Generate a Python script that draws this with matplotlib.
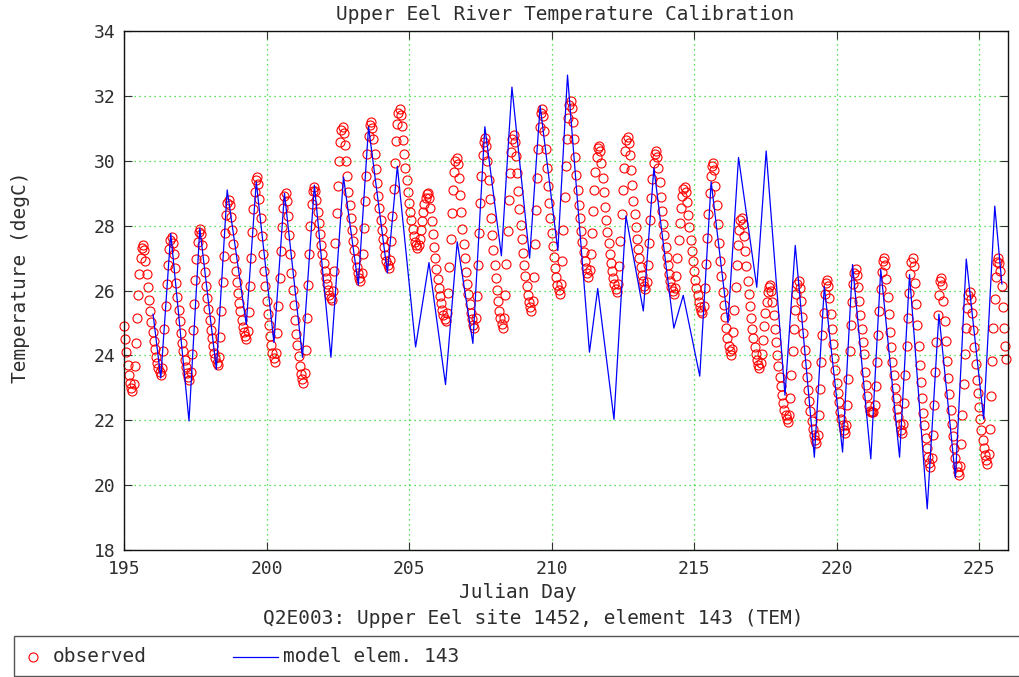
import numpy as np
import matplotlib
matplotlib.use('Agg')
from matplotlib import pyplot as plt
from matplotlib.patches import Rectangle
from matplotlib.lines import Line2D

# hourly observed stream temperature (degC), starting at Julian day 195.0
obs_temp = [
    24.9, 24.5, 24.1, 23.7, 23.4, 23.15, 23.0, 22.9, 23.13, 23.67, 24.39, 25.15, 25.87, 26.5, 27.0, 27.31, 27.4, 27.24, 26.92, 26.52, 26.12, 25.72, 25.36, 25.04,  # 195
    24.72, 24.44, 24.2, 23.96, 23.76, 23.6, 23.48, 23.4, 23.61, 24.12, 24.8, 25.53, 26.2, 26.8, 27.27, 27.57, 27.65, 27.47, 27.12, 26.68, 26.24, 25.8, 25.41, 25.05,  # 196
    24.7, 24.39, 24.13, 23.87, 23.65, 23.47, 23.34, 23.25, 23.48, 24.04, 24.78, 25.58, 26.32, 26.97, 27.48, 27.81, 27.9, 27.73, 27.4, 26.98, 26.56, 26.14, 25.76, 25.42,  # 197
    25.09, 24.79, 24.54, 24.29, 24.08, 23.91, 23.78, 23.7, 23.96, 24.57, 25.38, 26.25, 27.07, 27.78, 28.34, 28.7, 28.8, 28.63, 28.28, 27.85, 27.42, 26.99, 26.61, 26.26,  # 198
    25.92, 25.62, 25.36, 25.1, 24.89, 24.71, 24.59, 24.5, 24.75, 25.35, 26.15, 27.0, 27.8, 28.5, 29.05, 29.4, 29.5, 29.27, 28.82, 28.25, 27.68, 27.11, 26.59, 26.14,  # 199
    25.68, 25.28, 24.94, 24.6, 24.31, 24.08, 23.91, 23.8, 24.06, 24.68, 25.52, 26.4, 27.23, 27.96, 28.53, 28.9, 29.0, 28.77, 28.3, 27.71, 27.13, 26.54, 26.02, 25.55,  # 200
    25.08, 24.67, 24.32, 23.97, 23.68, 23.44, 23.27, 23.15, 23.45, 24.18, 25.15, 26.18, 27.14, 27.99, 28.66, 29.08, 29.2, 29.06, 28.78, 28.43, 28.08, 27.73, 27.41, 27.13,  # 201
    26.85, 26.61, 26.4, 26.19, 26.01, 25.87, 25.77, 25.7, 25.97, 26.61, 27.47, 28.38, 29.23, 29.98, 30.57, 30.94, 31.05, 30.86, 30.48, 30.0, 29.53, 29.05, 28.63, 28.25,  # 202
    27.87, 27.53, 27.25, 26.96, 26.73, 26.54, 26.39, 26.3, 26.55, 27.13, 27.92, 28.75, 29.53, 30.22, 30.76, 31.1, 31.2, 31.02, 30.66, 30.21, 29.76, 29.31, 28.9, 28.54,  # 203
    28.18, 27.87, 27.6, 27.33, 27.1, 26.92, 26.79, 26.7, 26.94, 27.53, 28.31, 29.14, 29.92, 30.6, 31.14, 31.48, 31.58, 31.41, 31.07, 30.64, 30.21, 29.78, 29.4, 29.05,  # 204
    28.71, 28.41, 28.16, 27.9, 27.69, 27.51, 27.39, 27.3, 27.39, 27.59, 27.86, 28.15, 28.42, 28.66, 28.85, 28.97, 29.0, 28.84, 28.53, 28.13, 27.74, 27.34, 26.99, 26.67,  # 205
    26.35, 26.08, 25.84, 25.6, 25.41, 25.25, 25.13, 25.05, 25.3, 25.91, 26.72, 27.58, 28.38, 29.09, 29.65, 30.0, 30.1, 29.89, 29.47, 28.94, 28.42, 27.89, 27.42, 27.0,  # 206
    26.58, 26.21, 25.9, 25.58, 25.32, 25.11, 24.95, 24.85, 25.14, 25.84, 26.78, 27.78, 28.71, 29.53, 30.17, 30.58, 30.7, 30.47, 30.0, 29.41, 28.83, 28.24, 27.72, 27.25,  # 207
    26.78, 26.37, 26.02, 25.67, 25.38, 25.14, 24.97, 24.85, 25.15, 25.86, 26.81, 27.83, 28.78, 29.61, 30.26, 30.68, 30.8, 30.58, 30.15, 29.61, 29.06, 28.52, 28.03, 27.6,  # 208
    27.16, 26.78, 26.46, 26.13, 25.86, 25.64, 25.48, 25.37, 25.68, 26.43, 27.43, 28.49, 29.48, 30.35, 31.04, 31.48, 31.6, 31.37, 30.92, 30.35, 29.78, 29.21, 28.69, 28.24,  # 209
    27.78, 27.38, 27.04, 26.7, 26.41, 26.18, 26.01, 25.9, 26.2, 26.91, 27.86, 28.88, 29.83, 30.66, 31.31, 31.73, 31.85, 31.63, 31.2, 30.66, 30.12, 29.57, 29.09, 28.65,  # 210
    28.22, 27.84, 27.51, 27.19, 26.92, 26.7, 26.54, 26.43, 26.63, 27.12, 27.76, 28.45, 29.1, 29.66, 30.11, 30.39, 30.47, 30.29, 29.93, 29.48, 29.03, 28.58, 28.17, 27.81,  # 211
    27.45, 27.13, 26.86, 26.59, 26.37, 26.19, 26.05, 25.96, 26.2, 26.77, 27.53, 28.35, 29.11, 29.78, 30.3, 30.63, 30.73, 30.54, 30.17, 29.7, 29.24, 28.77, 28.35, 27.97,  # 212
    27.6, 27.27, 26.99, 26.71, 26.48, 26.29, 26.15, 26.06, 26.27, 26.78, 27.46, 28.18, 28.86, 29.45, 29.92, 30.22, 30.3, 30.12, 29.77, 29.33, 28.89, 28.45, 28.06, 27.7,  # 213
    27.35, 27.04, 26.78, 26.52, 26.3, 26.12, 25.99, 25.9, 26.07, 26.46, 26.99, 27.55, 28.08, 28.54, 28.9, 29.13, 29.2, 29.04, 28.73, 28.34, 27.95, 27.56, 27.21, 26.9,  # 214
    26.59, 26.31, 26.08, 25.85, 25.65, 25.49, 25.38, 25.3, 25.53, 26.09, 26.83, 27.62, 28.36, 29.01, 29.52, 29.85, 29.94, 29.7, 29.23, 28.63, 28.04, 27.45, 26.91, 26.44,  # 215
    25.96, 25.54, 25.19, 24.83, 24.53, 24.3, 24.12, 24.0, 24.21, 24.72, 25.4, 26.12, 26.8, 27.39, 27.86, 28.16, 28.24, 28.06, 27.69, 27.22, 26.76, 26.3, 25.88, 25.51,  # 216
    25.14, 24.82, 24.54, 24.27, 24.04, 23.85, 23.71, 23.62, 23.75, 24.05, 24.46, 24.9, 25.3, 25.66, 25.94, 26.12, 26.17, 26.0, 25.66, 25.24, 24.82, 24.4, 24.02, 23.68,  # 217
    23.34, 23.05, 22.79, 22.54, 22.33, 22.16, 22.03, 21.95, 22.17, 22.69, 23.38, 24.12, 24.81, 25.41, 25.89, 26.19, 26.28, 26.08, 25.68, 25.18, 24.68, 24.18, 23.74, 23.34,  # 218
    22.94, 22.59, 22.29, 21.99, 21.74, 21.54, 21.39, 21.29, 21.54, 22.15, 22.95, 23.81, 24.62, 25.32, 25.88, 26.23, 26.33, 26.14, 25.76, 25.29, 24.82, 24.34, 23.92, 23.54,  # 219
    23.16, 22.83, 22.55, 22.26, 22.03, 21.84, 21.69, 21.6, 21.85, 22.46, 23.27, 24.13, 24.93, 25.64, 26.2, 26.55, 26.65, 26.47, 26.12, 25.68, 25.24, 24.8, 24.4, 24.05,  # 220
    23.5, 23.1, 22.75, 22.45, 22.3, 22.25, 22.25, 22.24, 22.48, 23.05, 23.81, 24.62, 25.38, 26.05, 26.57, 26.9, 27.0, 26.78, 26.35, 25.81, 25.27, 24.73, 24.25, 23.81,  # 221
    23.38, 23.0, 22.68, 22.36, 22.09, 21.87, 21.71, 21.6, 21.87, 22.52, 23.38, 24.3, 25.16, 25.92, 26.51, 26.89, 27.0, 26.74, 26.23, 25.58, 24.94, 24.29, 23.71, 23.19,  # 222
    22.68, 22.23, 21.84, 21.45, 21.13, 20.87, 20.68, 20.55, 20.84, 21.54, 22.48, 23.48, 24.41, 25.23, 25.87, 26.28, 26.4, 26.16, 25.67, 25.06, 24.45, 23.84, 23.29, 22.8,  # 223
    22.31, 21.89, 21.52, 21.15, 20.85, 20.6, 20.42, 20.3, 20.58, 21.26, 22.17, 23.13, 24.04, 24.83, 25.45, 25.85, 25.96, 25.75, 25.32, 24.79, 24.26, 23.73, 23.25, 22.83,  # 224
    22.4, 22.03, 21.71, 21.39, 21.13, 20.92, 20.76, 20.65, 20.97, 21.73, 22.75, 23.83, 24.84, 25.73, 26.43, 26.87, 27.0, 26.85, 26.6, 26.15, 25.5, 24.85, 24.3, 23.9,  # 225
]
obs_day = 195 + np.arange(len(obs_temp)) / 24.0

# model element 143 (turning points of the simulated series)
model_day = [196.02, 196.29, 196.64, 197.28, 197.66, 198.24, 198.62, 199.29, 199.64, 200.26,
             200.63, 201.26, 201.68, 202.26, 202.70, 203.22, 203.58, 204.24, 204.59, 205.23,
             205.70, 206.28, 206.69, 207.24, 207.66, 208.24, 208.61, 209.23, 209.60, 210.22,
             210.56, 211.33, 211.62, 212.19, 212.61, 213.22, 213.59, 214.29, 214.62, 215.20,
             215.60, 216.19, 216.56, 217.20, 217.53, 218.19, 218.55, 219.22, 219.57, 220.21,
             220.56, 221.20, 221.55, 222.21, 222.56, 223.18, 223.59, 224.17, 224.55, 225.16,
             225.55, 225.80]
model_temp = [25.27, 23.3, 27.76, 21.98, 27.92, 23.57, 29.1, 24.95, 29.35, 24.4,
              29.0, 23.94, 29.25, 23.94, 29.5, 26.17, 31.05, 26.54, 29.83, 24.26,
              26.86, 23.1, 27.5, 24.37, 31.05, 27.07, 32.27, 27.0, 31.69, 27.23,
              32.64, 24.1, 26.06, 22.03, 28.3, 25.37, 29.78, 24.84, 25.85, 23.36,
              29.35, 25.0, 30.1, 26.1, 30.3, 22.77, 27.39, 20.86, 26.12, 21.02,
              26.8, 20.81, 26.65, 20.86, 26.49, 19.27, 25.27, 20.23, 26.97, 22.03,
              28.6, 26.2]

x_ticks = [195, 200, 205, 210, 215, 220, 225]
y_ticks = [18, 20, 22, 24, 26, 28, 30, 32, 34]

plt.rcParams['font.family'] = 'DejaVu Sans Mono'
plt.rcParams['font.size'] = 14
txt = '#2e2e2e'

W, H = 1020, 677
fig = plt.figure(figsize=(W / 100, H / 100), dpi=100)
ax = fig.add_axes([124 / W, 1 - 550 / H, (1007.6 - 124) / W, (550 - 31) / H])

ax.plot(obs_day, obs_temp, 'o', mfc='none', mec='red', ms=6.5, mew=0.8, clip_on=False)
ax.plot(model_day, model_temp, '-', color='blue', lw=0.9)

ax.set_xlim(195, 226)
ax.set_ylim(18, 34)
ax.set_xticks(x_ticks)
ax.set_yticks(y_ticks)
ax.grid(True, color='#22dd22', linestyle=(0, (1, 3)), linewidth=0.9)
ax.tick_params(direction='in', top=True, right=True, length=6, width=0.8,
               color='#333333', labelcolor=txt, labelsize=13)
ax.tick_params(axis='x', pad=7)
ax.tick_params(axis='y', pad=6)
for s in ax.spines.values():
    s.set_color('#111111')
    s.set_linewidth(1.0)


def fx(px):
    return px / W


def fy(py):
    return 1 - py / H


fig.text(fx(565), fy(15), 'Upper Eel River Temperature Calibration', ha='center', va='center', color=txt)
fig.text(fx(518), fy(592), 'Julian Day', ha='center', va='center', color=txt)
fig.text(fx(533), fy(618), 'Q2E003: Upper Eel site 1452, element 143 (TEM)', ha='center', va='center', color=txt)
fig.text(fx(21), fy(277), 'Temperature (degC)', rotation=90, ha='center', va='center', color=txt)

# legend box along the bottom
fig.add_artist(Rectangle((fx(14), fy(676)), fx(1030) - fx(14), fy(636) - fy(676),
                         transform=fig.transFigure, fill=False, edgecolor='#555555', lw=1.0))
fig.add_artist(Line2D([fx(33)], [fy(657)], marker='o', mfc='none', mec='red', ms=6.5, mew=0.8,
                      transform=fig.transFigure))
fig.text(fx(53), fy(657), 'observed', ha='left', va='center', color=txt)
fig.add_artist(Line2D([fx(233), fx(278)], [fy(657), fy(657)], color='blue', lw=0.9,
                      transform=fig.transFigure))
fig.text(fx(283), fy(657), 'model elem. 143', ha='left', va='center', color=txt)

fig.savefig('out.png', dpi=100)
